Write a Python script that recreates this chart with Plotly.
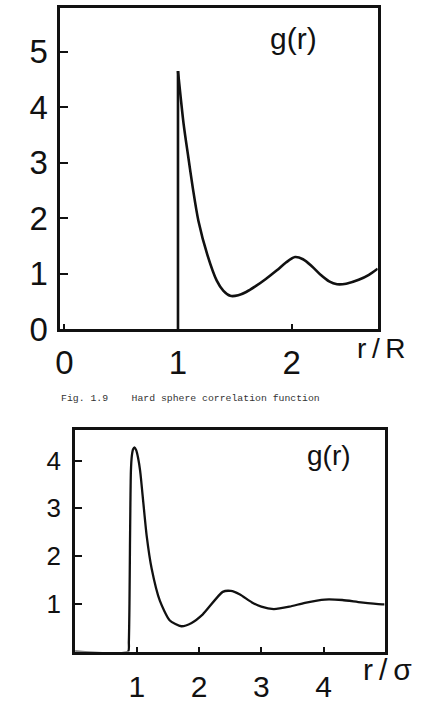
import plotly.graph_objects as go

# ---- data: top panel (hard sphere, r/R) ----
hs_contact_r = [1.0, 1.0]
hs_contact_g = [0.0, 4.65]
hs_r = [1.0, 1.05, 1.09, 1.13, 1.18, 1.26, 1.34, 1.40, 1.46, 1.53, 1.60, 1.68,
        1.77, 1.87, 1.95, 2.03, 2.10, 2.18, 2.26, 2.33, 2.40, 2.48, 2.59, 2.68, 2.757]
hs_g = [4.65, 3.69, 3.11, 2.55, 1.95, 1.33, 0.88, 0.69, 0.60, 0.61, 0.67, 0.77,
        0.90, 1.06, 1.20, 1.30, 1.26, 1.13, 0.97, 0.86, 0.81, 0.82, 0.89, 0.98, 1.09]

# ---- data: bottom panel (r/sigma) ----
lj_r = [0.0, 0.86, 0.872, 0.882, 0.89, 0.897, 0.905, 0.92, 0.94, 0.963, 0.99, 1.02,
        1.054, 1.106, 1.159, 1.238, 1.371, 1.53, 1.714, 1.88, 2.06, 2.38, 2.51, 2.65,
        2.85, 3.0, 3.2, 3.45, 3.7, 4.02, 4.3, 4.6, 4.94, 4.98]
lj_g = [0.0, 0.0, 0.2, 1.0, 2.2, 3.1, 3.78, 4.1, 4.24, 4.28, 4.22, 4.06,
        3.78, 3.10, 2.42, 1.74, 1.06, 0.65, 0.53, 0.60, 0.78, 1.25, 1.27, 1.20,
        1.03, 0.94, 0.89, 0.94, 1.02, 1.09, 1.08, 1.03, 0.99, 0.99]

top_yticks = [0, 1, 2, 3, 4, 5]
top_xticks = [0, 1, 2]
bot_yticks = [1, 2, 3, 4]
bot_xticks = [1, 2, 3, 4]

INK = "#111111"
SANS = "Liberation Sans, Arial, sans-serif"
W, H = 435, 728

fig = go.Figure()
fig.add_trace(go.Scatter(x=hs_contact_r, y=hs_contact_g, mode="lines",
                         line=dict(color=INK, width=2.6), xaxis="x", yaxis="y",
                         showlegend=False, hoverinfo="skip"))
fig.add_trace(go.Scatter(x=hs_r, y=hs_g, mode="lines",
                         line=dict(color=INK, width=2.6, shape="spline", smoothing=0.8),
                         xaxis="x", yaxis="y", showlegend=False))
fig.add_trace(go.Scatter(x=lj_r, y=lj_g, mode="lines",
                         line=dict(color=INK, width=2.3, shape="spline", smoothing=0.6),
                         xaxis="x2", yaxis="y2", showlegend=False))

def px_x(p):
    return p / W

def px_y(p):
    return 1 - p / H

frame = dict(showline=True, linecolor=INK, linewidth=3, mirror=True,
             showgrid=False, zeroline=False, ticks="inside", tickcolor=INK)

fig.update_layout(
    width=W, height=H, margin=dict(l=0, r=0, t=0, b=0),
    paper_bgcolor="white", plot_bgcolor="white",
    xaxis=dict(frame, domain=[px_x(56), px_x(377)], range=[-0.035, 2.757],
               tickvals=top_xticks, ticktext=[str(v) for v in top_xticks],
               ticklen=5, tickwidth=2, anchor="y",
               tickfont=dict(family=SANS, size=33, color=INK), ticklabelstandoff=2),
    yaxis=dict(frame, domain=[px_y(338), px_y(8)], range=[0, 330 / 57],
               tickvals=top_yticks, ticktext=[str(v) for v in top_yticks],
               ticklen=8, tickwidth=2, anchor="x",
               tickfont=dict(family=SANS, size=33, color=INK), ticklabelstandoff=3),
    xaxis2=dict(frame, domain=[px_x(71), px_x(384)], range=[0.01, 4.98],
                tickvals=bot_xticks, ticktext=[str(v) for v in bot_xticks],
                ticklen=5, tickwidth=2, anchor="y2",
                tickfont=dict(family=SANS, size=30, color=INK), ticklabelstandoff=6),
    yaxis2=dict(frame, domain=[px_y(669), px_y(442)], range=[0, 227 / 49],
                tickvals=bot_yticks, ticktext=[str(v) for v in bot_yticks],
                ticklen=7, tickwidth=2, anchor="x2",
                tickfont=dict(family=SANS, size=26, color=INK), ticklabelstandoff=6),
)

ann = [
    dict(text="g(r)", x=px_x(292), y=px_y(40), size=30),
    dict(text="r\u2009/\u2009R", x=px_x(381), y=px_y(358), size=28),
    dict(text="g(r)", x=px_x(328), y=px_y(468), size=28),
    dict(text="r\u2009/\u2009σ", x=px_x(387), y=px_y(687), size=30),
]
for a in ann:
    fig.add_annotation(text=a["text"], x=a["x"], y=a["y"], xref="paper", yref="paper",
                       xanchor="center", yanchor="middle", showarrow=False,
                       font=dict(family=SANS, size=a["size"], color=INK))

caption = "Fig. 1.9" + "\u00a0" * 4 + "Hard sphere correlation function"
fig.add_annotation(text=caption, x=px_x(55), y=px_y(409), xref="paper", yref="paper",
                   xanchor="left", yanchor="middle", showarrow=False,
                   font=dict(family="Liberation Mono, Courier New, monospace", size=9.8, color="#333333"))

fig.write_html("out.html")
